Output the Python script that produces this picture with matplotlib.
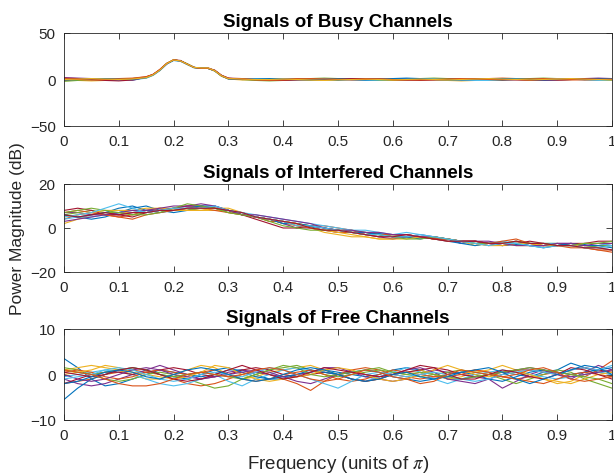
import numpy as np
import matplotlib
matplotlib.use("Agg")
import matplotlib.pyplot as plt

plt.rcParams['font.family'] = ['Liberation Sans', 'DejaVu Sans']
plt.rcParams['mathtext.fontset'] = 'stix'

# ---------------- data ----------------
freq = np.linspace(0, 1, 41)
busy_freq = [0, 0.025, 0.05, 0.075, 0.1, 0.125,
             0.15, 0.1625, 0.175, 0.1875, 0.2, 0.2125, 0.225, 0.2375, 0.25, 0.2625, 0.275, 0.2875, 0.3,
             0.325, 0.35, 0.375, 0.4, 0.425, 0.45, 0.475, 0.5, 0.525, 0.55, 0.575, 0.6, 0.625, 0.65,
             0.675, 0.7, 0.725, 0.75, 0.775, 0.8, 0.825, 0.85, 0.875, 0.9, 0.925, 0.95, 0.975, 1.0]

busy_B1 = [1,0.5,-0.5,-1,-1,0, 2,5,10,17,21,20,16.5,13,12,12,9.5,4,1,
           0.5,0,-0.5,0,0.5,0,-0.5,-1,0,0.5,1,0,-0.5,0,0.5,1,0.5,0,-0.5,-1,0,0.5,0,-0.5,0,0.5,1,0.5]
busy_B2 = [-1,-0.5,0,0.5,1,1.5, 3,5.5,10.5,17,21,20,16.5,13,12.5,12.5,10,4.5,1.5,
           0,-0.5, 0,0.5,1,0.5,0, 0.5,1,0.5,-0.5,-1, -0.5,0,0.5,0,-0.5, 0.5,1,1.5,1,0, -0.5,-1,-0.5,0,0.5, 0]
busy_B3 = [0,-1,-1.5,-1,0,0.5, 1.5,4.5,10,17,21.5,20,16,12.5,12,12,9.5,3.5,0.5,
           -0.5,0, 0.5,0,-0.5,-1,-0.5, 0,0.5,0,0.5,1, 0.5,0,-0.5,-1,-1.5, -1,0,0.5,1,0.5, 0,0.5,1,0,-0.5, -1]
busy_B4 = [2,1.5,1,0,-0.5,-1, 2.5,5,10,16.5,21,20,16.5,13,12,12.5,9.5,4,1,
           1,0.5, 0,-0.5,0,0.5,1, 0.5,0,-0.5,0,0.5, 1,0.5,0,0.5,0, -0.5,0,0.5,0,-0.5, -1,-0.5,0,1,1.5, 1]
busy_B5 = [-2,-1,0,0.5,0,1, 2,5,10.5,17.5,21,20,17,13,12,12,9,3.5,1,
           0,-1, -1.5,-1,0,1,1.5, 1,0,-0.5,-1,-0.5, 0,1,1.5,1,0, 0,-0.5,0,0.5,1, 1.5,1,0.5,0,-0.5, -1]
busy_B6 = [0.5,1,0.5,0,-1,-0.5, 1.5,4.5,9.5,16.5,20.5,19.5,16,12.5,12,12,9.5,4,1,
           0.5,1, 0.5,0,-0.5,0,0.5, 0,-0.5,-1,-0.5,0, 0.5,1,0.5,0,-0.5, -1,-1,0,0.5,0, 0.5,1,0.5,-0.5,-1, -0.5]
busy_B7 = [1.5,1,0,-1,-1.5,-0.5, 2.5,5.5,10.5,17,21,20.5,16.5,13,12,12,10,4.5,1.5,
           1,0, -0.5,-1,-0.5,0,0, 0.5,1,1,0.5,0, -0.5,-1,-0.5,0,0.5, 1,0.5,0,-0.5,-1, -0.5,0,0.5,1,0.5, 0]
busy_B8 = [-0.5,0,0.5,1,0.5,0, 2,5,10,17,20.5,20,16.5,13,12.5,12,9.5,4,0.5,
           0,0.5, 1,0.5,0,-0.5,0, 0.5,0,-0.5,0,1, 1.5,1,0,-0.5,-0.5, 0,0.5,1,0.5,0, -0.5,0,0.5,0,0.5, 1]
busy_B9 = [1,0,-0.5,0,0.5,1, 3,5.5,11,17.5,21,20,16.5,13,12,12,9.5,4,1,
           0.5,-0.5, -1,-0.5,0.5,1,0.5, 0,-0.5,0,0.5,0, -0.5,-0.5,0,0.5,1, 0.5,0,-0.5,0,0.5, 1,0.5,0,-0.5,0, 0.5]
busy_B10 = [0,0.5,1,0.5,0,0.5, 2,5,10,17,21,20,16.5,13,12.5,12.5,9.5,4,1,
            0.5,0, 0,0.5,0,-0.5,-1, -0.5,0,0.5,0,-0.5, 0,0.5,0,-0.5,0, 0.5,1,0.5,0,-0.5, 0,0.5,1,0.5,0, -0.5]

intf_I1 = [6,5,4,5,7, 9,10,8,7,8, 10,10,8,6,5, 4,3,2,0.5,-1, -1,-2,-3,-2.5,-3, -3,-4,-5,-6,-7, -6,-7,-8,-7.5,-8, -9,-8,-7,-7.5,-9, -10]
intf_I2 = [4,6,7,6,5, 6,8,9,8,8, 9,9,8,6,5, 3,3,2,1,1, 0,-1,-3,-4,-3, -3,-4,-5,-6,-6, -7,-8,-7,-6,-7, -8,-8,-9,-9,-10, -10]
intf_I3 = [2,4,6,7,7, 7,8,9,9,8, 8,8,8,6,5, 4,2,1,0,-2, -3,-4,-4,-5,-5, -4,-4,-5,-5,-6, -8,-7,-7,-8,-8, -8,-7,-8,-8,-9, -8]
intf_I4 = [7,7,6,6,6, 7,8,8,9,10, 10,10,8,6,5, 4,2,0,0,-1, -2,-2,-3,-4,-5, -4,-3,-4,-5,-7, -6,-6,-7,-7,-8, -8,-7,-7,-8,-8, -7]
intf_I5 = [6,7,8,7,7, 6,7,8,8,8, 9,9,7,6,5, 4,3,2,1,0, -1,-1,-2,-3,-3, -4,-4,-5,-5,-6, -6,-7,-7,-7,-8, -7,-7,-8,-9,-8, -8]
intf_I6 = [4,5,5,6,7, 8,7,8,9,9, 10,10,8,7,6, 5,4,3,2,1, 0,-1,-1,-2,-3, -2,-3,-4,-5,-6, -7,-7,-6,-7,-7, -7,-7,-8,-7,-7, -8]
intf_I7 = [8,9,8,6,6, 5,7,8,9,10, 10,9,8,6,4, 2,0,0,1,0, -1,-2,-2,-3,-4, -4,-4,-5,-5,-6, -6,-7,-8,-7,-6, -7,-8,-7,-7,-6, -6]
intf_I8 = [6,5,6,7,9, 10,8,7,8,9, 10,9,8,7,5, 4,2,2,1,0, -1,-2,-2,-3,-4, -4,-5,-4,-5,-7, -8,-7,-7,-7,-8, -8,-8,-7,-8,-8, -9]
intf_I9 = [7,8,7,6,5, 4,6,7,8,9, 9,8,7,6,5, 4,3,1,0,-1, -2,-2,-3,-3,-3, -3,-4,-5,-5,-6, -6,-7,-6,-5,-7, -8,-8,-8,-9,-10, -11]
intf_I10 = [5,6,7,8,8, 8,9,9,8,8, 8,9,9,7,5, 4,3,2,0,-1, -2,-3,-4,-5,-5, -5,-4,-4,-5,-6, -7,-8,-8,-7,-7, -8,-8,-8,-7,-7, -7]
intf_I11 = [3,4,5,6,7, 8,8,9,10,10, 11,10,8,6,6, 5,4,3,2,0, -1,-1,-2,-2,-3, -3,-4,-4,-5,-6, -6,-7,-7,-8,-8, -8,-7,-7,-8,-7, -7]
intf_I12 = [7,8,9,8,7, 6,6,7,9,11, 10,9,7,6,5, 3,1,0,-1,-1, -1,-2,-3,-3,-4, -5,-5,-4,-5,-6, -7,-7,-7,-6,-7, -7,-8,-8,-7,-7, -6]
intf_I13 = [5,6,7,9,11, 9,7,8,9,9, 9,10,8,7,5, 4,3,1,1,0, -1,-2,-3,-3,-4, -4,-3,-4,-5,-6, -7,-8,-7,-7,-8, -9,-8,-8,-9,-9, -8]
intf_I14 = [6,5,6,7,6, 7,7,8,8,9, 9,9,8,7,5, 4,3,2,0,-1, -1,-2,-3,-4,-4, -3,-4,-5,-6,-6, -6,-7,-7,-6,-7, -7,-8,-8,-9,-9, -10]

free_F1 = [3.5,1.5,-1,-2.5,-2, -1,0,1,0.5,0, -0.5,0,1,1,0, -1,-1,0,0.5,1, 0.5,0,-0.5,0,1, 1.5,1,0,-1,-1, -0.5,0,0.5,0,-0.5, 0.5,1,2.5,1.5,0.5, 0]
free_F2 = [-2,-1.5,-1,0,0.5, 1,0.5,0,-1,-2, -2.5,-2,-1,0,0.5, 0,-1,-2,-3.5,-1.5, 0,1,1.5,1,0, -0.5,-1,-0.5,0,0.5, 1,0.5,-0.5,-1,-0.5, 0,0.5,0,-0.5,1, 3]
free_F3 = [1,1.5,2,1.5,1, 0,-1,-1,0,1, 2,1.5,0,-1,-0.5, 0.5,1,1.5,2,1, 0,-1,-1.5,-1,0, 0.5,1,0,-1,-0.5, 0.5,1,2,1,0, -1,-2,-1.5,0,0.5, 1]
free_F4 = [-1,-2,-2.5,-2,-1, 0,1,2,1,0, -1,-0.5,0.5,1,0.5, 0,-0.5,0,0.5,1.5, 1.5,0.5,-0.5,-1,-1.5, -1,0,1,0.5,0, -0.5,-1,-3,-1.5,0, 1,0,-1,0.5,2, 1]
free_F5 = [1.5,1,0,-1,-1.5, -1,0,0.5,0,-1, -2,-3,-2.5,-1,0, 1,1.5,2,1,0, -0.5,0,0.5,1,0.5, 0,-0.5,0,0.5,1, 0.5,0,-1,-2,-1, 0,1,0.5,-1,-2, -3]
free_F6 = [-0.5,0,0.5,1,0.5, 0,-1,-2,-2.5,-2, -1,0,-1.5,-2.5,-1, 0,1,1.5,1,0.5, 0,-1,-1.5,-0.5,0.5, 1.5,0.5,-1,-2,-1, 0,0.5,1,0.5,0, -0.5,-1,-0.5,0,0.5, 0]
free_F7 = [-2,-1,0,0.5,0.5, 0,0.5,1,1.5,1, 0,-0.5,0,1,1.5, 1,0,-0.5,0,0.5, 0,-1,-1.5,-1,0, 0.5,1,1.5,1,0, -0.5,0,0.5,1,1, 0.5,0,1,1.5,1, 0.5]
free_F8 = [-5.5,-3,-1,0,1, 1.5,1,0,-0.5,-1, 0,1,1.5,0.5,-0.5, -1,-0.5,0,1,0.5, 0,0.5,1,0.5,-0.5, -1,-1.5,-1,0,0.5, 0,-1,-1.5,-0.5,0.5, 1,0.5,0,0.5,1, 1.5]
free_F9 = [0.5,1,0.5,-0.5,-1, -0.5,0.5,1,0.5,0, 0.5,1,0,-1,-1.5, -1,0,0.5,1,0, -1,-1.5,-1,0,1, 0.5,0,-0.5,-0.5,0, 1,0.5,-0.5,-1,-1.5, -2,-1,0,0.5,0, -0.5]
free_F10 = [0,0.5,1,2,1.5, 0.5,0,-0.5,-1,-0.5, 0.5,2,1.5,0,-1, -1.5,-1,-0.5,0,1, 1.5,1,0,-1,-1.5, -1,0,1,2,1, 0,-0.5,0,0.5,0, -1,-1.5,-2,-1,0, 0.5]
free_F11 = [0,-1,-1.5,-1,0, 1,1.5,1,0,-0.5, -1,-0.5,0,0.5,1, 0.5,-0.5,-1.5,-2,-1, 0,0.5,0,-0.5,0, 1,1.5,0.5,-1,-1.5, -2,-1,0,1,1.5, 1,0,-0.5,0,0.5, 1]
free_F12 = [1,0.5,0,0.5,1, 1.5,1,0,-0.5,0, 0.5,0,-0.5,-1,0, 1,2,1.5,0,-0.5, 0,0.5,1,1.5,0.5, 0,0.5,0,-0.5,-1, -0.5,0,0.5,1,1.5, 1,0.5,0,-0.5,-1, -2]
free_F13 = [-1,-0.5,0,1,1.5, 1,0,-1,-1.5,-1, 0,0.5,0,-0.5,0.5, 1.5,1,0,-1,-2, -3,-1.5,0,0.5,0, -0.5,0,0.5,0,-1, -1.5,-1,0,0.5,1, 0.5,0,1,1.5,1, 2]
free_F14 = [0.5,0,-0.5,0,1, 1.5,1,0,-1,-1.5, -1,0,1,2,1, 0,-1,-0.5,0.5,1.5, 1,0.5,0,-0.5,0, 1,2,1.5,0,-1, -1,0,1,0.5,-0.5, -1,0,1.5,1,0, -1]
free_F15 = [-2,-1.5,-0.5,0.5,1, 0.5,-0.5,-1,0,1, 1.5,1,0,-1,-1.5, -1,0,1,1.5,1, 0,-1,-1.5,-1,0, 0.5,-0.5,-1,-0.5,0.5, 1,1.5,0.5,-1,-2, -1,0,1,2,1.5, 0]
free_F16 = [1,0.5,0,-1,-2, -2.5,-2.5,-2,-1,0, 0.5,0,-0.5,0,1, 1.5,1,0,-1,-1.5, -1,0,1,0.5,-0.5, -1,-2,-1.5,0,1, 0.5,0,-0.5,0,1, 1.5,0.5,-1,-1.5,-1, -0.5]

busy = [busy_B1, busy_B2, busy_B3, busy_B4, busy_B5, busy_B6, busy_B7, busy_B8, busy_B9, busy_B10]
interfered = [intf_I1, intf_I2, intf_I3, intf_I4, intf_I5, intf_I6, intf_I7,
              intf_I8, intf_I9, intf_I10, intf_I11, intf_I12, intf_I13, intf_I14]
free = [free_F1, free_F2, free_F3, free_F4, free_F5, free_F6, free_F7, free_F8,
        free_F9, free_F10, free_F11, free_F12, free_F13, free_F14, free_F15, free_F16]

titles = ["Signals of Busy Channels", "Signals of Interfered Channels", "Signals of Free Channels"]
ylims = [(-50, 50), (-20, 20), (-10, 10)]
yticks = [[-50, 0, 50], [-20, 0, 20], [-10, 0, 10]]
xticks = [0, 0.1, 0.2, 0.3, 0.4, 0.5, 0.6, 0.7, 0.8, 0.9, 1]
xticklabels = ["0", "0.1", "0.2", "0.3", "0.4", "0.5", "0.6", "0.7", "0.8", "0.9", "1"]

colors = ['#0072BD', '#D95319', '#EDB120', '#7E2F8E', '#77AC30', '#4DBEEE', '#A2142F']

# ---------------- figure ----------------
W, H = 614, 477
fig = plt.figure(figsize=(W/100, H/100), dpi=100)
boxes = [(64, 34, 612, 127), (64, 185, 612, 273), (64, 330, 612, 421)]
datasets = [(busy_freq, busy), (freq, interfered), (freq, free)]

for (l, t, r, b), (xs, data), title, yl, yt in zip(boxes, datasets, titles, ylims, yticks):
    ax = fig.add_axes([l/W, 1 - b/H, (r-l)/W, (b-t)/H])
    for i, ys in enumerate(data):
        ax.plot(xs, ys, color=colors[i % 7], lw=0.8)
    ax.set_xlim(0, 1)
    ax.set_ylim(*yl)
    ax.set_yticks(yt)
    ax.set_xticks(xticks)
    ax.set_xticklabels(xticklabels)
    ax.tick_params(direction='in', top=True, right=True, labelsize=11,
                   colors='#262626', length=4, width=0.6, pad=6)
    for s in ax.spines.values():
        s.set_color('#262626')
        s.set_linewidth(0.6)
    ax.set_title(title, fontsize=13.5, fontweight='bold', color='black', pad=5)

fig.text(18/W, 1 - 229/H, "Power Magnitude (dB)", rotation=90, ha='center', va='center',
         fontsize=12.5, color='#262626')
fig.text(338/W, 1 - 465/H, r"Frequency (units of $\pi$)", ha='center', va='center',
         fontsize=13.5, color='#262626')

fig.savefig("out.png", dpi=100)
